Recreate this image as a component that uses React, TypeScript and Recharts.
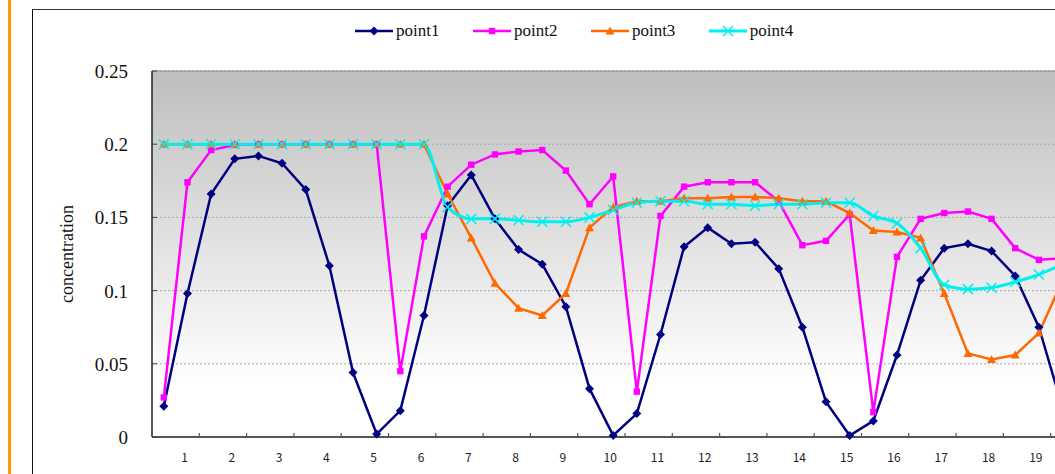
import React from 'react'
import { LineChart, Line, XAxis, YAxis, CartesianGrid, ReferenceLine } from 'recharts'

// readings, two per x label (first one sits half a step before label 1)
const point1 = [
  0.021, 0.098, 0.166, 0.19, 0.192, 0.187, 0.169, 0.117, 0.044, 0.002,
  0.018, 0.083, 0.158, 0.179, 0.149, 0.128, 0.118, 0.089, 0.033, 0.001,
  0.016, 0.07, 0.13, 0.143, 0.132, 0.133, 0.115, 0.075, 0.024, 0.001,
  0.011, 0.056, 0.107, 0.129, 0.132, 0.127, 0.11, 0.075, 0.02,
]
const point2 = [
  0.027, 0.174, 0.196, 0.1995, 0.2, 0.2, 0.2, 0.2, 0.2, 0.2,
  0.045, 0.137, 0.171, 0.186, 0.193, 0.195, 0.196, 0.182, 0.159, 0.178,
  0.031, 0.151, 0.171, 0.174, 0.174, 0.174, 0.161, 0.131, 0.134, 0.152,
  0.017, 0.123, 0.149, 0.153, 0.154, 0.149, 0.129, 0.121, 0.122,
]
const point3 = [
  0.2, 0.2, 0.2, 0.2, 0.2, 0.2, 0.2, 0.2, 0.2, 0.2,
  0.2, 0.2, 0.166, 0.136, 0.105, 0.088, 0.083, 0.098, 0.143, 0.157,
  0.161, 0.161, 0.163, 0.163, 0.164, 0.164, 0.163, 0.161, 0.161, 0.153,
  0.141, 0.14, 0.136, 0.098, 0.057, 0.053, 0.056, 0.071, 0.107,
]
const point4 = [
  0.2, 0.2, 0.2, 0.2, 0.2, 0.2, 0.2, 0.2, 0.2, 0.2,
  0.2, 0.2, 0.157, 0.149, 0.149, 0.148, 0.147, 0.147, 0.15, 0.155,
  0.16, 0.161, 0.161, 0.159, 0.159, 0.158, 0.159, 0.159, 0.16, 0.16,
  0.151, 0.146, 0.129, 0.104, 0.101, 0.102, 0.106, 0.111, 0.118,
]
const xLabels = [1, 2, 3, 4, 5, 6, 7, 8, 9, 10, 11, 12, 13, 14, 15, 16, 17, 18, 19]
const yTicks = [0, 0.05, 0.1, 0.15, 0.2, 0.25]

const SERIES = [
  { key: 'point1', color: '#000080', shape: 'diamond', width: 2.5, type: 'linear' },
  { key: 'point2', color: '#ff00ff', shape: 'square', width: 2.5, type: 'linear' },
  { key: 'point3', color: '#ff6a00', shape: 'triangle', width: 2.5, type: 'linear' },
  { key: 'point4', color: '#00f0f0', shape: 'cross', width: 3, type: 'monotone' },
] as const

const data = point1.map((v, i) => ({
  x: (i + 1) / 2,
  point1: v,
  point2: point2[i],
  point3: point3[i],
  point4: point4[i],
}))

const PLOT_LEFT = 152
const PLOT_TOP = 71
const PLOT_BOTTOM = 437
const X_MIN = 0.25
const X_MAX = 20.25
const UNIT = 47.3
const CHART_W = 1150
const CHART_H = 600

const SERIF = '"Liberation Serif", "Times New Roman", serif'

function Marker({ shape, color, cx, cy }: { shape: string; color: string; cx: number; cy: number }) {
  if (shape === 'diamond') {
    return <polygon points={`${cx},${cy - 4.5} ${cx + 4.5},${cy} ${cx},${cy + 4.5} ${cx - 4.5},${cy}`} fill={color} />
  }
  if (shape === 'square') {
    return <rect x={cx - 3.2} y={cy - 3.2} width={6.4} height={6.4} fill={color} />
  }
  if (shape === 'triangle') {
    return <polygon points={`${cx},${cy - 4.5} ${cx + 4.5},${cy + 3.5} ${cx - 4.5},${cy + 3.5}`} fill={color} />
  }
  return (
    <g stroke={color} strokeWidth={1.5}>
      <line x1={cx - 5} y1={cy - 5} x2={cx + 5} y2={cy + 5} />
      <line x1={cx - 5} y1={cy + 5} x2={cx + 5} y2={cy - 5} />
    </g>
  )
}

function XTick(props: any) {
  const { x, payload } = props
  const tx = x + UNIT * 0.25
  return (
    <g>
      <line x1={tx} x2={tx} y1={PLOT_BOTTOM} y2={PLOT_BOTTOM - 4} stroke="#555" strokeWidth={1.2} />
      <text
        x={x - 3}
        y={462}
        textAnchor="middle"
        fontFamily='"Noto Sans CJK JP", "DejaVu Sans", sans-serif'
        fontSize={12}
        fill="#222"
      >
        {payload.value}
      </text>
    </g>
  )
}

function YTick(props: any) {
  const { y, payload } = props
  return (
    <g>
      <line x1={PLOT_LEFT} x2={PLOT_LEFT + 5} y1={y} y2={y} stroke="#444" strokeWidth={1} />
      <text x={128} y={y} dy={7} textAnchor="end" fontFamily={SERIF} fontSize={19} fill="#111">
        {payload.value}
      </text>
    </g>
  )
}

function LegendRow() {
  return (
    <div
      style={{
        position: 'absolute',
        left: 355,
        top: 21,
        display: 'flex',
        alignItems: 'center',
        fontFamily: SERIF,
        fontSize: 17,
        color: '#111',
      }}
    >
      {SERIES.map((s) => (
        <div key={s.key} style={{ display: 'flex', alignItems: 'center', marginRight: 33.5 }}>
          <svg width={38} height={20}>
            <line x1={0} x2={38} y1={10} y2={10} stroke={s.color} strokeWidth={s.width} />
            <Marker shape={s.shape} color={s.color} cx={19} cy={10} />
          </svg>
          <span style={{ marginLeft: 3 }}>{s.key}</span>
        </div>
      ))}
    </div>
  )
}

export default function App() {
  return (
    <div
      style={{
        position: 'fixed',
        left: 0,
        top: 0,
        width: 1055,
        height: 474,
        overflow: 'hidden',
        background: '#fff',
      }}
    >
      <div style={{ position: 'absolute', left: 8, top: 0, width: 2.5, height: 474, background: '#ff9a00' }} />
      <div
        style={{
          position: 'absolute',
          left: 32,
          top: 9,
          width: 1200,
          height: 600,
          borderLeft: '1.5px solid #111',
          borderTop: '1.5px solid #333',
        }}
      />
      <div style={{ position: 'absolute', left: 0, top: 0 }}>
        <LineChart
          width={CHART_W}
          height={CHART_H}
          data={data}
          margin={{ top: PLOT_TOP, left: 92, right: CHART_W - PLOT_LEFT - UNIT * (X_MAX - X_MIN), bottom: CHART_H - PLOT_BOTTOM - 30 }}
        >
          <defs>
            <linearGradient id="plotBg" x1="0" y1="0" x2="0" y2="1">
              <stop offset="0%" stopColor="#bebebe" />
              <stop offset="85%" stopColor="#ffffff" />
              <stop offset="100%" stopColor="#ffffff" />
            </linearGradient>
          </defs>
          <CartesianGrid
            vertical={false}
            fill="url(#plotBg)"
            stroke="#a8a8a8"
            strokeDasharray="2 2"
          />
          <ReferenceLine y={0.25} stroke="#8a8a8a" strokeWidth={1} />
          <XAxis
            type="number"
            dataKey="x"
            domain={[X_MIN, X_MAX]}
            ticks={xLabels}
            allowDataOverflow
            height={30}
            axisLine={{ stroke: '#555', strokeWidth: 2 }}
            tickLine={false}
            tick={<XTick />}
            interval={0}
          />
          <YAxis
            type="number"
            domain={[0, 0.25]}
            ticks={yTicks}
            width={60}
            axisLine={{ stroke: '#222', strokeWidth: 1.5 }}
            tickLine={false}
            tick={<YTick />}
            interval={0}
            label={{
              content: () => (
                <text
                  x={73}
                  y={254}
                  transform="rotate(-90 73 254)"
                  textAnchor="middle"
                  fontFamily={SERIF}
                  fontSize={18}
                  fill="#111"
                >
                  concentration
                </text>
              ),
            }}
          />
          {SERIES.map((s) => (
            <Line
              key={s.key}
              dataKey={s.key}
              type={s.type}
              stroke={s.color}
              strokeWidth={s.width}
              isAnimationActive={false}
              activeDot={false}
              dot={(p: any) => <Marker key={`${s.key}-${p.index}`} shape={s.shape} color={s.color} cx={p.cx} cy={p.cy} />}
            />
          ))}
        </LineChart>
      </div>
      <LegendRow />
    </div>
  )
}
